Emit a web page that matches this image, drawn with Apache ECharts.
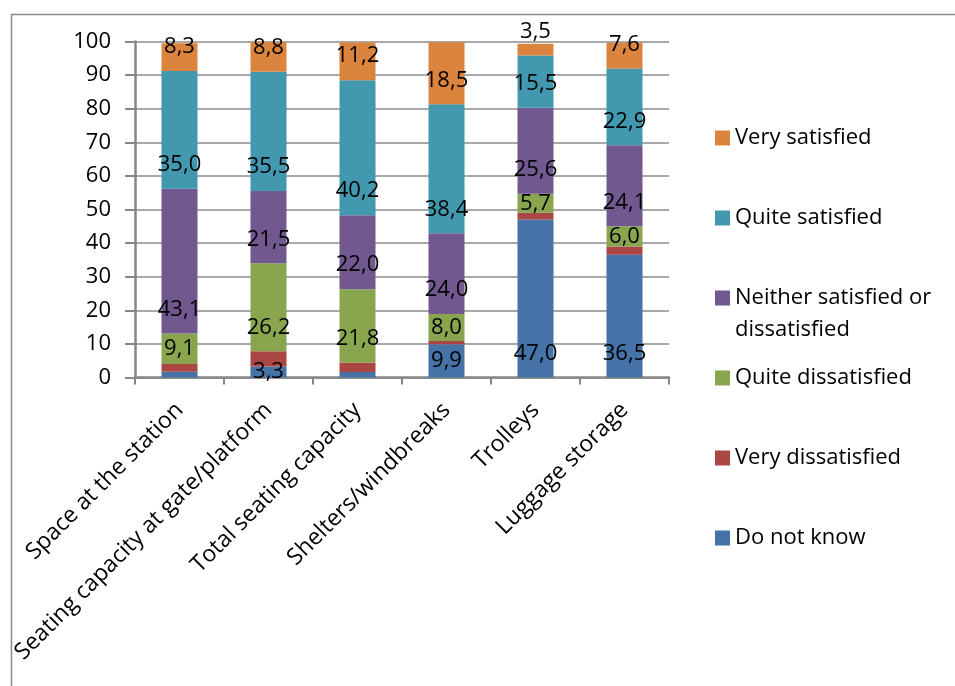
<!DOCTYPE html>
<html>
<head>
<meta charset="utf-8">
<script src="https://cdn.jsdelivr.net/npm/echarts@6/dist/echarts.min.js"></script>
<style>
html,body{margin:0;padding:0;background:#fff;}
#chart{width:955px;height:686px;}
</style>
</head>
<body>
<div id="chart"></div>
<script>
const categories = ['Space at the station','Seating capacity at gate/platform','Total seating capacity','Shelters/windbreaks','Trolleys','Luggage storage'];
const seriesNames = ['Do not know','Very dissatisfied','Quite dissatisfied','Neither satisfied or dissatisfied','Quite satisfied','Very satisfied'];
const doNotKnow = [1.7, 3.3, 1.6, 9.9, 47.0, 36.5];
const veryDissatisfied = [2.3, 4.5, 2.9, 1.0, 2.0, 2.5];
const quiteDissatisfied = [9.1, 26.2, 21.8, 8.0, 5.7, 6.0];
const neither = [43.1, 21.5, 22.0, 24.0, 25.6, 24.1];
const quiteSatisfied = [35.0, 35.5, 40.2, 38.4, 15.5, 22.9];
const verySatisfied = [8.3, 8.8, 11.2, 18.5, 3.5, 7.6];
const yTicks = [0,10,20,30,40,50,60,70,80,90,100];

const values = [doNotKnow, veryDissatisfied, quiteDissatisfied, neither, quiteSatisfied, verySatisfied];
const colors = ['#4572A7','#AA4643','#89A54E','#71588F','#4198AF','#DB843D'];
const FONT = 'Open Sans';

const series = values.map((arr, si) => ({
  name: seriesNames[si],
  type: 'bar',
  stack: 'total',
  barWidth: 36,
  itemStyle: { color: colors[si] },
  label: {
    show: true,
    fontFamily: FONT,
    fontSize: 22,
    lineHeight: 22,
    color: '#000',
    distance: 13,
    formatter: p => p.value.toFixed(1).replace('.', ',')
  },
  data: arr.map(v => ({
    value: v,
    label: {
      show: si !== 1 && v >= 3,
      position: (si !== 5 && v < 10) ? 'inside' : 'insideBottom'
    }
  }))
}));

const NEITHER = 'Neither satisfied or dissatisfied';
const legendData = seriesNames.slice().reverse().map(n => ({
  name: n,
  textStyle: n === NEITHER ? { padding: 0 } : { padding: [32, 0, 32, 0] }
}));

const chart = echarts.init(document.getElementById('chart'));
chart.setOption({
  animation: false,
  backgroundColor: '#fff',
  graphic: [{
    type: 'rect',
    left: 9, top: 12,
    shape: { width: 1000, height: 1000 },
    style: { fill: 'none', stroke: '#8a8a8a', lineWidth: 1.5 },
    silent: true
  }],
  grid: { left: 135, right: 286, top: 41.5, bottom: 308.5, containLabel: false },
  legend: {
    orient: 'vertical',
    left: 710,
    top: 85,
    itemWidth: 15,
    itemHeight: 15,
    itemGap: -16,
    icon: 'rect',
    data: legendData,
    formatter: n => n === NEITHER ? '\nNeither satisfied or\ndissatisfied' : n,
    textStyle: { fontFamily: FONT, fontSize: 22, lineHeight: 32, color: '#000' },
    selectedMode: false
  },
  xAxis: {
    type: 'category',
    data: categories,
    axisLine: { lineStyle: { color: '#868686', width: 2.5 } },
    axisTick: { show: true, length: 7, alignWithLabel: false, lineStyle: { color: '#868686', width: 2 } },
    axisLabel: {
      interval: 0,
      rotate: 45,
      margin: 29,
      fontFamily: FONT,
      fontSize: 23,
      color: '#000'
    }
  },
  yAxis: {
    type: 'value',
    min: 0,
    max: 100,
    interval: 10,
    axisLine: { show: true, lineStyle: { color: '#868686', width: 2.5 } },
    axisTick: { show: true, length: 10, lineStyle: { color: '#868686', width: 2 } },
    splitLine: { show: true, lineStyle: { color: '#8c8c8c', width: 1.5 } },
    axisLabel: {
      margin: 24,
      fontFamily: FONT,
      fontSize: 22,
      color: '#000',
      formatter: v => yTicks.indexOf(v) >= 0 ? String(v) : ''
    }
  },
  series: series
});
</script>
</body>
</html>
